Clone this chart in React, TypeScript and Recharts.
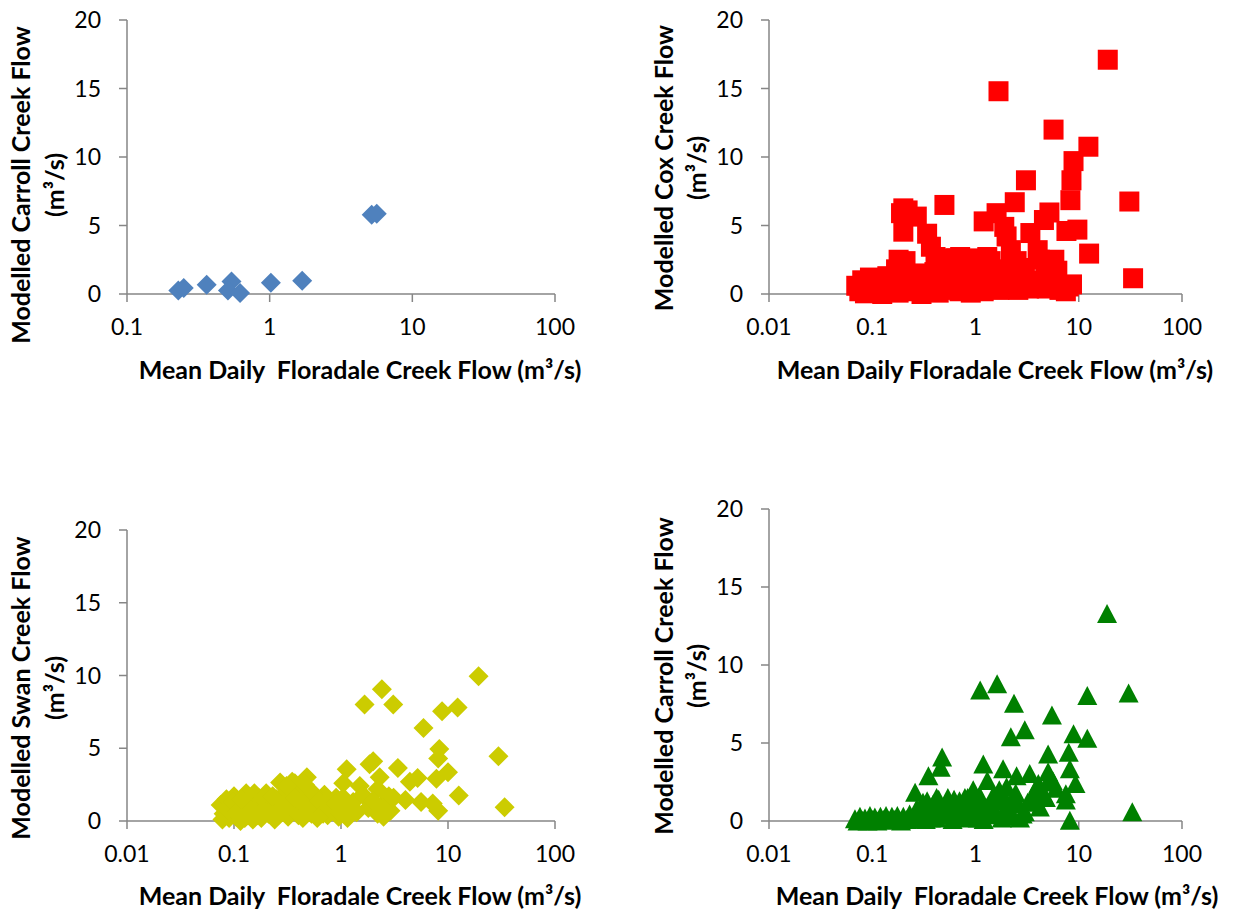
import React from 'react';
import { ScatterChart, Scatter, XAxis, YAxis, Label } from 'recharts';

// Floradale flow (x, m3/s) vs modelled creek flow (y, m3/s)
const carrollShort: [number, number][] = [
  [0.229, 0.26], [0.25, 0.44], [0.362, 0.68], [0.54, 0.92], [0.51, 0.26],
  [0.62, 0.07], [1.02, 0.82], [1.69, 0.97], [5.19, 5.79], [5.63, 5.86],
];

const coxFlow: [number, number][] = [
  [19.1, 17.1], [1.67, 14.8], [5.7, 12.0], [12.4, 10.75], [8.9, 9.7], [8.5, 8.3],
  [3.08, 8.3], [0.5, 6.5], [2.4, 6.7], [8.3, 6.85], [30.9, 6.75], [0.2, 6.25],
  [0.19, 5.9], [0.22, 6.1], [0.27, 5.65], [0.2, 4.55], [1.2, 5.3], [1.6, 5.9],
  [5.2, 5.95], [4.6, 5.4], [7.6, 4.6], [9.7, 4.7], [3.4, 4.45], [1.9, 4.9],
  [2.0, 4.2], [0.34, 4.4], [0.37, 3.45], [0.41, 2.7], [2.2, 3.2], [12.6, 2.95],
  [4.0, 3.2], [5.8, 2.5], [0.18, 2.5], [0.71, 2.7], [1.3, 2.7], [0.46, 2.6],
  [33.6, 1.15], [8.0, 0.55], [4.8, 1.5], [4.9, 0.4], [2.9, 1.0], [2.5, 2.4],
  [3.5, 0.6], [6.5, 0.3], [1.8, 1.8],
  [0.07, 0.6], [0.075, 0.2], [0.08, 1.0], [0.085, 0.05], [0.09, 0.5], [0.095, 1.2],
  [0.1, 0.1], [0.105, 0.8], [0.11, 0.3], [0.12, 1.1], [0.125, 0.0], [0.13, 0.6],
  [0.14, 1.3], [0.15, 0.2], [0.16, 0.9], [0.17, 1.8], [0.18, 0.1], [0.19, 1.4],
  [0.2, 0.5], [0.21, 2.4], [0.22, 1.0], [0.24, 0.2], [0.26, 1.5], [0.28, 0.7],
  [0.3, 0.0], [0.32, 1.2], [0.36, 0.4], [0.4, 1.6], [0.44, 0.1], [0.48, 0.9],
  [0.52, 2.0], [0.56, 0.3], [0.6, 1.3], [0.65, 2.6], [0.7, 0.2], [0.75, 1.8],
  [0.8, 0.8], [0.85, 2.5], [0.9, 0.1], [0.95, 1.5], [1.0, 2.6], [1.05, 0.5],
  [1.1, 1.9], [1.2, 0.2], [1.3, 1.2], [1.4, 2.4], [1.5, 0.6], [1.7, 0.3],
  [1.9, 1.4], [2.1, 0.5], [2.3, 0.9], [2.6, 0.3], [3.0, 1.9], [3.3, 0.4],
  [3.8, 1.0], [4.2, 2.5], [5.5, 0.8], [6.2, 1.7], [7.5, 0.2], [8.6, 0.7],
];

const swanFlow: [number, number][] = [
  [19.3, 9.95], [2.41, 9.05], [1.66, 8.0], [3.08, 8.0], [12.3, 7.8], [8.8, 7.55],
  [5.9, 6.4], [29.6, 4.45], [8.3, 4.95], [8.1, 4.3], [3.4, 3.65], [1.13, 3.55],
  [1.85, 3.9], [2.0, 4.1], [10.0, 3.35], [7.8, 2.9], [5.2, 2.95], [4.4, 2.7],
  [2.3, 3.0], [0.48, 3.0], [0.27, 2.65], [0.37, 2.6], [12.6, 1.75], [33.8, 0.95],
  [8.1, 0.7], [5.6, 1.3], [4.0, 1.45], [7.2, 1.2], [2.7, 1.45], [2.5, 0.3],
  [1.2, 0.5], [1.5, 2.4], [2.2, 2.2], [1.05, 2.6], [2.8, 1.7],
  [0.075, 1.1], [0.08, 0.5], [0.085, 1.5], [0.09, 0.2], [0.095, 0.9], [0.1, 1.7],
  [0.105, 0.3], [0.11, 1.2], [0.115, 0.0], [0.12, 0.7], [0.13, 1.9], [0.135, 0.4],
  [0.14, 1.3], [0.15, 0.1], [0.16, 0.9], [0.17, 1.6], [0.18, 0.2], [0.19, 1.2],
  [0.2, 1.9], [0.21, 0.5], [0.22, 1.0], [0.24, 0.1], [0.25, 1.5], [0.28, 0.7],
  [0.3, 1.9], [0.32, 0.3], [0.34, 1.3], [0.35, 2.7], [0.38, 0.8], [0.41, 1.8],
  [0.44, 0.2], [0.47, 1.1], [0.5, 2.1], [0.53, 0.5], [0.57, 1.5], [0.6, 0.2],
  [0.65, 1.0], [0.7, 1.8], [0.75, 0.4], [0.8, 1.2], [0.85, 0.7], [0.9, 1.6],
  [0.95, 0.3], [1.0, 1.1], [1.1, 0.8], [1.15, 0.2], [1.3, 1.3], [1.4, 0.6],
  [1.6, 1.8], [1.8, 0.9], [2.0, 1.4], [2.2, 0.5], [2.6, 1.0], [2.9, 0.7], [3.1, 1.6],
  [0.078, 0.1], [0.088, 0.8], [0.098, 1.3], [0.108, 0.6], [0.118, 1.5], [0.126, 0.2],
  [0.145, 0.7], [0.155, 1.9], [0.165, 0.4], [0.185, 1.5], [0.195, 0.6], [0.23, 1.7],
  [0.26, 0.4], [0.29, 1.2], [0.31, 2.4], [0.33, 0.9], [0.37, 1.6], [0.4, 0.4],
  [0.43, 1.3], [0.46, 2.5], [0.49, 0.8], [0.55, 1.9], [0.62, 1.4], [0.68, 0.5],
  [0.72, 1.3], [0.78, 0.8], [0.88, 1.2], [0.98, 0.6], [1.05, 1.6], [1.25, 1.0],
];

const carrollFlow: [number, number][] = [
  [18.8, 13.3], [1.62, 8.8], [1.11, 8.4], [12.1, 8.05], [30.4, 8.2], [2.36, 7.55],
  [5.5, 6.8], [3.0, 5.85], [2.2, 5.4], [8.9, 5.6], [12.1, 5.3], [5.05, 4.3],
  [8.0, 4.4], [0.475, 4.1], [0.46, 3.45], [0.35, 2.9], [1.19, 3.65], [8.2, 3.35],
  [1.85, 3.35], [3.35, 3.05], [5.05, 3.15], [2.5, 2.9], [1.3, 2.6], [4.06, 2.4],
  [9.3, 2.4], [7.5, 1.75], [7.5, 1.35], [8.2, 0.05], [33, 0.6], [2.86, 0.45],
  [2.4, 1.35], [0.26, 1.85], [0.42, 1.5], [0.54, 1.5], [0.84, 1.5], [4.5, 1.8],
  [6.0, 2.1], [2.0, 2.2], [1.5, 1.7], [0.95, 2.0],
  [0.068, 0.15], [0.072, 0.0], [0.076, 0.3], [0.08, 0.05], [0.085, 0.2], [0.09, 0.0],
  [0.095, 0.35], [0.1, 0.1], [0.106, 0.25], [0.112, 0.0], [0.12, 0.3], [0.128, 0.1],
  [0.136, 0.35], [0.145, 0.05], [0.155, 0.3], [0.165, 0.1], [0.175, 0.35], [0.19, 0.0],
  [0.2, 0.3], [0.215, 0.1], [0.23, 0.45], [0.25, 0.15], [0.27, 0.8], [0.29, 0.3],
  [0.31, 1.2], [0.33, 0.1], [0.36, 0.6], [0.39, 1.1], [0.42, 0.2], [0.46, 0.9],
  [0.5, 0.4], [0.55, 1.1], [0.6, 0.1], [0.65, 0.7], [0.7, 1.3], [0.76, 0.3],
  [0.82, 0.9], [0.88, 0.2], [0.95, 1.2], [1.0, 0.5], [1.1, 1.6], [1.2, 0.1],
  [1.3, 0.9], [1.45, 0.4], [1.6, 1.3], [1.8, 0.2], [2.0, 0.9], [2.3, 0.3],
  [2.6, 1.1], [3.0, 0.6], [3.5, 1.5], [4.2, 0.9], [5.0, 2.5],
  [0.28, 0.5], [0.3, 1.0], [0.32, 0.4], [0.34, 1.3], [0.37, 0.2], [0.4, 0.8],
  [0.44, 1.4], [0.48, 0.5], [0.52, 1.0], [0.58, 0.4], [0.62, 1.4], [0.68, 0.3],
  [0.73, 0.9], [0.79, 1.5], [0.85, 0.5], [0.9, 1.0], [1.05, 0.2], [1.15, 1.0],
  [1.25, 0.5], [1.4, 1.2], [1.55, 0.6], [1.7, 2.0], [1.95, 1.4], [2.2, 0.6],
  [2.45, 1.8], [2.7, 0.2], [3.2, 1.2], [3.8, 2.0], [4.8, 1.5], [5.6, 2.6],
];

const yTicks = [0, 5, 10, 15, 20];
const xTicksShort = [0.1, 1, 10, 100];
const xTicksLong = [0.01, 0.1, 1, 10, 100];

const FONT = 'Lato, "Open Sans", sans-serif';
const AXIS = '#868686';
const Y_W = 60;
const X_H = 40;

const diamond = (color: string) => (p: any) => (
  <path d={`M${p.cx},${p.cy - 10}L${p.cx + 10},${p.cy}L${p.cx},${p.cy + 10}L${p.cx - 10},${p.cy}Z`} fill={color} />
);
const square = (color: string) => (p: any) => (
  <rect x={p.cx - 10} y={p.cy - 10} width={20} height={20} fill={color} />
);
const triangle = (color: string) => (p: any) => (
  <path d={`M${p.cx},${p.cy - 9.5}L${p.cx + 10},${p.cy + 9.5}L${p.cx - 10},${p.cy + 9.5}Z`} fill={color} />
);

interface PanelProps {
  left: number; top: number; width: number; height: number;
  plot: { top: number; right: number; bottom: number; left: number };
  points: [number, number][];
  shape: (p: any) => React.ReactElement;
  xTicks: number[];
  yTitle: string;
  yTitlePos: { x1: number; x2: number; y: number };
  xTitle: string;
  xTitlePos: { x: number; y: number };
}

const Panel = ({ left, top, width, height, plot, points, shape, xTicks, yTitle, yTitlePos, xTitle, xTitlePos }: PanelProps) => {
  const data = points.map(([x, y]) => ({ x, y }));
  const tickStyle = { fill: '#000', fontSize: 23, fontFamily: FONT };
  const titleStyle: React.CSSProperties = { fontFamily: FONT, fontWeight: 700, fontSize: 25, whiteSpace: 'pre' };
  const margin = { top: plot.top, right: width - plot.right, bottom: height - plot.bottom - X_H, left: plot.left - Y_W };
  return (
    <div style={{ position: 'absolute', left, top }}>
      <ScatterChart width={width} height={height} margin={margin}>
        <XAxis
          dataKey="x" type="number" scale="log" domain={[xTicks[0], 100]} ticks={xTicks} interval={0}
          height={X_H} tickSize={8} tickMargin={17} stroke={AXIS} strokeWidth={1.5}
          tick={tickStyle} tickFormatter={(v: number) => String(v)}
        >
          <Label content={() => (
            <text x={xTitlePos.x} y={xTitlePos.y} textAnchor="middle" dominantBaseline="central" style={titleStyle}>
              {xTitle}
            </text>
          )} />
        </XAxis>
        <YAxis
          dataKey="y" type="number" domain={[0, 20]} ticks={yTicks} interval={0}
          width={Y_W} tickSize={8} tickMargin={18} stroke={AXIS} strokeWidth={1.5} tick={tickStyle}
        >
          <Label content={() => (
            <g style={titleStyle}>
              <text transform={`translate(${yTitlePos.x1},${yTitlePos.y}) rotate(-90)`} textAnchor="middle" dominantBaseline="central">{yTitle}</text>
              <text transform={`translate(${yTitlePos.x2},${yTitlePos.y}) rotate(-90)`} textAnchor="middle" dominantBaseline="central">(m³/s)</text>
            </g>
          )} />
        </YAxis>
        <Scatter data={data} shape={shape} isAnimationActive={false} />
      </ScatterChart>
    </div>
  );
};

export default function App() {
  return (
    <div style={{ position: 'absolute', left: 0, top: 0, width: 1233, height: 911, background: '#fff' }}>
      <Panel
        left={0} top={0} width={616} height={400}
        plot={{ top: 20, right: 555, bottom: 294, left: 127 }}
        points={carrollShort} shape={diamond('#4F81BD')} xTicks={xTicksShort}
        yTitle="Modelled Carroll Creek Flow" yTitlePos={{ x1: 20, x2: 54, y: 185 }}
        xTitle="Mean Daily  Floradale Creek Flow (m³/s)" xTitlePos={{ x: 360, y: 369 }}
      />
      <Panel
        left={616} top={0} width={617} height={400}
        plot={{ top: 20, right: 566, bottom: 294, left: 153 }}
        points={coxFlow} shape={square('#FF0000')} xTicks={xTicksLong}
        yTitle="Modelled Cox Creek Flow" yTitlePos={{ x1: 47, x2: 80, y: 168 }}
        xTitle="Mean Daily Floradale Creek Flow (m³/s)" xTitlePos={{ x: 379, y: 369 }}
      />
      <Panel
        left={0} top={455} width={616} height={456}
        plot={{ top: 75, right: 555, bottom: 366, left: 127 }}
        points={swanFlow} shape={diamond('#CCCC00')} xTicks={xTicksLong}
        yTitle="Modelled Swan Creek Flow" yTitlePos={{ x1: 20, x2: 54, y: 233 }}
        xTitle="Mean Daily  Floradale Creek Flow (m³/s)" xTitlePos={{ x: 360, y: 440 }}
      />
      <Panel
        left={616} top={455} width={617} height={456}
        plot={{ top: 54, right: 566, bottom: 366, left: 153 }}
        points={carrollFlow} shape={triangle('#008000')} xTicks={xTicksLong}
        yTitle="Modelled Carroll Creek Flow" yTitlePos={{ x1: 47, x2: 80, y: 221 }}
        xTitle="Mean Daily  Floradale Creek Flow (m³/s)" xTitlePos={{ x: 381, y: 440 }}
      />
    </div>
  );
}
